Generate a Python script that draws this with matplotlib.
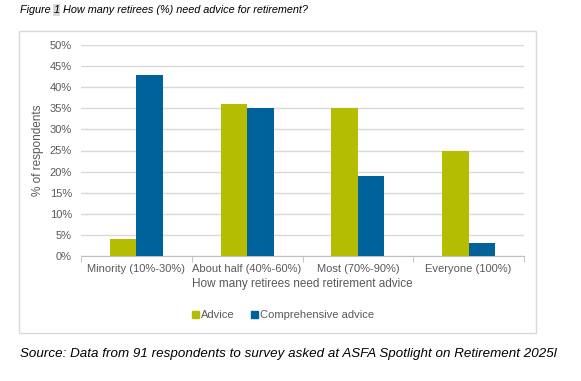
import matplotlib.pyplot as plt
from matplotlib.patches import Patch, Rectangle
import numpy as np

categories = ["Minority (10%-30%)", "About half (40%-60%)", "Most (70%-90%)", "Everyone (100%)"]
advice = [4, 36, 35, 25]
comprehensive = [43, 35, 19, 3]
series_names = ["Advice", "Comprehensive advice"]

green = "#B5BD00"
blue = "#00629B"
grey_text = "#595959"

plt.rcParams['font.family'] = ['Liberation Sans', 'DejaVu Sans']

fig = plt.figure(figsize=(5.81, 3.81), dpi=100)
W, H = 581, 381

# outer chart frame
fig.patches.append(Rectangle((19 / W, 1 - 333 / H), (536 - 19) / W, (333 - 31) / H,
                             transform=fig.transFigure, fill=False,
                             edgecolor="#D9D9D9", linewidth=1))

ax = fig.add_axes([81 / W, 1 - 256 / H, (524 - 81) / W, (256 - 45) / H])

x = np.arange(len(categories))
w = 0.24
ax.bar(x - w / 2, advice, w, color=green, label=series_names[0], zorder=3)
ax.bar(x + w / 2, comprehensive, w, color=blue, label=series_names[1], zorder=3)

ax.set_xlim(-0.5, len(categories) - 0.5)
ax.set_ylim(0, 50)
ax.set_yticks(range(0, 51, 5))
ax.set_yticklabels([f"{v}%" for v in range(0, 51, 5)])
ax.yaxis.grid(True, color="#D9D9D9", linewidth=1, zorder=0)
ax.set_xticks(x)
ax.set_xticklabels(categories)
ax.set_xticks(np.arange(-0.5, len(categories), 1), minor=True)
ax.tick_params(axis="x", which="major", length=0, pad=6, labelsize=8, labelcolor=grey_text)
ax.tick_params(axis="x", which="minor", length=4, color="#BFBFBF", direction="out")
ax.tick_params(axis="y", length=0, pad=6.5, labelsize=8, labelcolor=grey_text)
for s in ["top", "right", "left"]:
    ax.spines[s].set_visible(False)
ax.spines["bottom"].set_color("#BFBFBF")

ax.set_xlabel("How many retirees need retirement advice", fontsize=8.5, color=grey_text, labelpad=3)
ax.set_ylabel("% of respondents", fontsize=8.5, color=grey_text, labelpad=4)

handles = [Patch(color=green, label=series_names[0]), Patch(color=blue, label=series_names[1])]
fig.legend(handles=handles, loc="center", bbox_to_anchor=(283 / W, 1 - 315 / H), ncol=2,
           frameon=False, fontsize=8, handlelength=0.6, handleheight=0.6,
           handletextpad=0.2, columnspacing=1.5, labelcolor=grey_text)

# title with highlighted figure number
t1 = fig.text(20 / W, 1 - 10 / H, "Figure ", fontsize=7.8, style="italic", va="center")
t2 = fig.text(0, 0, "1", fontsize=7.8, style="italic", va="bottom",
              bbox=dict(facecolor="#D9D9D9", edgecolor="none", pad=0.5))
fig.canvas.draw()
r = fig.canvas.get_renderer()
bb = t1.get_window_extent(r)
t2.set_position((bb.x1 / W, bb.y0 / H))
bb2 = t2.get_window_extent(r)
fig.text(bb2.x1 / W, bb.y0 / H, " How many retirees (%) need advice for retirement?",
         fontsize=7.8, style="italic", va="bottom")

fig.text(20 / W, 1 - 354 / H,
         "Source: Data from 91 respondents to survey asked at ASFA Spotlight on Retirement 2025l",
         fontsize=9.6, style="italic", va="center")

fig.savefig("out.png", dpi=100)
